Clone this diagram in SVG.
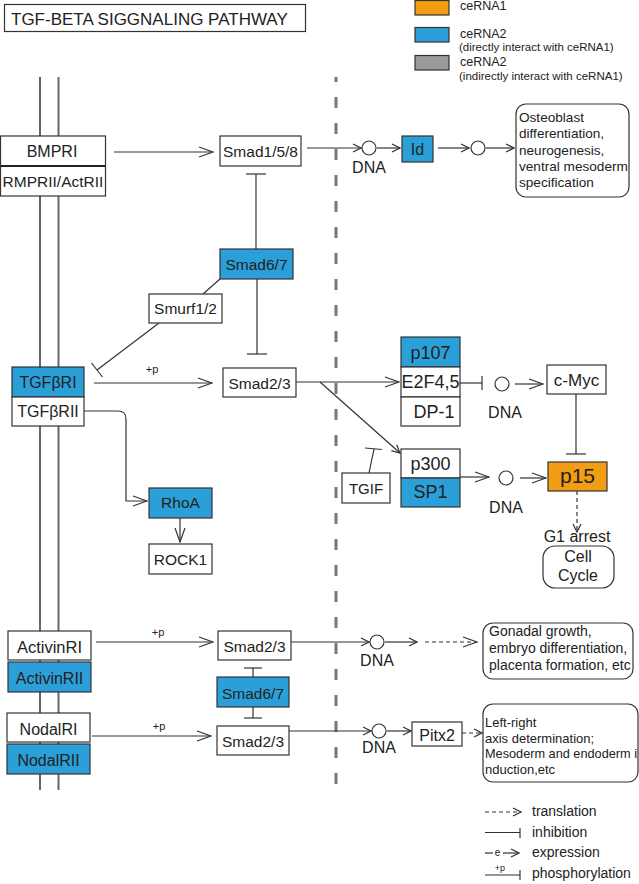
<svg xmlns="http://www.w3.org/2000/svg" width="639" height="884" viewBox="0 0 639 884">
<defs>
<style>
text{font-family:"Liberation Sans",Arial,sans-serif;fill:#222}
.b{fill:#fff;stroke:#333;stroke-width:1.2}
.bl{fill:#2b9fd8;stroke:#333;stroke-width:1.2}
.or{fill:#f19e14;stroke:#333;stroke-width:1.2}
.gr{fill:#9a9a9a;stroke:#333;stroke-width:1.2}
.c{fill:#fff;stroke:#333;stroke-width:1.2}
.ln{fill:none;stroke:#333;stroke-width:1.2}
.dl{fill:none;stroke:#333;stroke-width:1.2;stroke-dasharray:4 3}
.m{fill:none;stroke:#666;stroke-width:2}
.t16{font-size:16px;text-anchor:middle}
.t18{font-size:18px;text-anchor:middle}
.p{font-size:11px;text-anchor:middle}
</style>
<marker id="ah" markerUnits="userSpaceOnUse" markerWidth="16" markerHeight="12" viewBox="0 0 16 12" refX="15" refY="6" orient="auto"><path d="M1,1 L15,6 L1,11" fill="none" stroke="#333" stroke-width="1.2"/></marker>
<marker id="as" markerUnits="userSpaceOnUse" markerWidth="10" markerHeight="10" viewBox="0 0 10 10" refX="9" refY="5" orient="auto"><path d="M1,1 L9,5 L1,9" fill="none" stroke="#333" stroke-width="1.2"/></marker>
</defs>
<rect width="639" height="884" fill="#fff"/>

<g id="title"><rect x="4.5" y="4.5" width="301" height="27" class="b"/><text x="11" y="25" style="font-size:17px">TGF-BETA SIGGNALING PATHWAY</text></g>

<g id="legend">
<rect x="415" y="0.5" width="34" height="14.5" class="or"/><text x="460" y="10" style="font-size:12.5px">ceRNA1</text>
<rect x="415" y="27.5" width="34" height="14.5" class="bl"/><text x="460" y="38" style="font-size:12.5px">ceRNA2</text><text x="459" y="51" style="font-size:11.5px">(directly interact with ceRNA1)</text>
<rect x="415" y="55.5" width="34" height="14.5" class="gr"/><text x="460" y="66" style="font-size:12.5px">ceRNA2</text><text x="459" y="80" style="font-size:11.5px">(indirectly interact with ceRNA1)</text>
</g>

<g id="membrane"><line x1="40" y1="77" x2="40" y2="790" class="m"/><line x1="58.5" y1="77" x2="58.5" y2="790" class="m"/></g>
<g id="nucleus-border"><line x1="336" y1="77" x2="336" y2="793" style="stroke:#777;stroke-width:3;stroke-dasharray:11 15;stroke-dashoffset:6"/></g>

<g id="connectors">
<line x1="114" y1="152" x2="213" y2="152" class="ln" marker-end="url(#ah)"/>
<line x1="307" y1="148" x2="361" y2="148" class="ln" marker-end="url(#as)"/>
<line x1="377" y1="148" x2="400" y2="148" class="ln" marker-end="url(#as)"/>
<line x1="438" y1="148" x2="469" y2="148" class="ln" marker-end="url(#as)"/>
<line x1="486" y1="148" x2="514" y2="148" class="ln" marker-end="url(#as)"/>
<line x1="256" y1="249" x2="256" y2="174" class="ln"/><line x1="246" y1="174" x2="266" y2="174" class="ln"/>
<line x1="257" y1="279" x2="257" y2="354" class="ln"/><line x1="247" y1="354" x2="267" y2="354" class="ln"/>
<line x1="220" y1="279" x2="203" y2="294" class="ln"/>
<line x1="159" y1="323" x2="97" y2="370" class="ln"/><line x1="91.5" y1="363" x2="102.5" y2="377" class="ln"/>
<line x1="94" y1="383" x2="212" y2="383" class="ln" marker-end="url(#ah)"/><text x="152" y="373" class="p">+p</text>
<path d="M84,411 H118 Q126,411 126,419 V501 H147" class="ln" marker-end="url(#ah)"/>
<line x1="180" y1="518" x2="180" y2="542" class="ln" marker-end="url(#ah)"/>
<line x1="296" y1="382" x2="399" y2="382" class="ln" marker-end="url(#ah)"/>
<line x1="320" y1="382" x2="400" y2="453" class="ln" marker-end="url(#as)"/>
<line x1="460" y1="383" x2="482" y2="383" class="ln"/><line x1="482" y1="376" x2="482" y2="390" class="ln"/>
<line x1="515" y1="384" x2="543" y2="384" class="ln" marker-end="url(#ah)"/>
<line x1="576" y1="394" x2="576" y2="454" class="ln"/><line x1="566" y1="454" x2="586" y2="454" class="ln"/>
<line x1="460" y1="477" x2="489" y2="477" class="ln" marker-end="url(#ah)"/>
<line x1="520" y1="478" x2="546" y2="478" class="ln" marker-end="url(#ah)"/>
<line x1="369" y1="473" x2="374" y2="449" class="ln"/><line x1="365" y1="448" x2="382" y2="449.5" class="ln"/>
<line x1="577" y1="491" x2="577" y2="532" class="dl" marker-end="url(#as)"/>
<line x1="96" y1="642" x2="213" y2="642" class="ln" marker-end="url(#ah)"/><text x="158" y="636" class="p">+p</text>
<line x1="253" y1="677" x2="253" y2="668" class="ln"/><line x1="244" y1="668" x2="262" y2="668" class="ln"/>
<line x1="253" y1="707" x2="253" y2="718" class="ln"/><line x1="244" y1="718" x2="262" y2="718" class="ln"/>
<line x1="92" y1="736" x2="211" y2="736" class="ln" marker-end="url(#ah)"/><text x="159" y="730" class="p">+p</text>
<line x1="291" y1="642" x2="369" y2="642" class="ln" marker-end="url(#as)"/>
<line x1="385" y1="642" x2="417" y2="642" class="ln" marker-end="url(#as)"/>
<line x1="425" y1="642" x2="477" y2="642" class="dl" marker-end="url(#ah)"/>
<line x1="289" y1="731" x2="371" y2="731" class="ln" marker-end="url(#as)"/>
<line x1="387" y1="731" x2="411" y2="731" class="ln" marker-end="url(#as)"/>
<line x1="462" y1="733" x2="482" y2="733" class="dl" marker-end="url(#as)"/>
</g>

<g id="BMPRI"><rect x="0.5" y="136" width="105" height="30" class="b"/><text x="52" y="157" class="t16">BMPRI</text></g>
<g id="RMPRII"><rect x="0.5" y="166" width="105" height="30" class="b"/><line x1="0.5" y1="166" x2="105.5" y2="166" style="stroke:#222;stroke-width:2"/><text x="53" y="187" class="t16" style="font-size:15.5px">RMPRII/ActRII</text></g>
<g id="Smad158"><rect x="220" y="136" width="81" height="30" class="b"/><text x="260.5" y="157" class="t16" style="font-size:15.5px">Smad1/5/8</text></g>
<g id="DNA1"><circle cx="369" cy="148" r="7" class="c"/><text x="369" y="173" class="t16">DNA</text></g>
<g id="Id"><rect x="402" y="136" width="31" height="26" class="bl"/><text x="417.5" y="155" class="t16">Id</text></g>
<g id="circle2"><circle cx="478" cy="148" r="7" class="c"/></g>
<g id="osteoblast"><rect x="516" y="104" width="113" height="93" rx="10" class="b"/>
<text x="519" y="122" style="font-size:13.6px">Osteoblast</text><text x="519" y="138" style="font-size:13.6px">differentiation,</text><text x="519" y="154.5" style="font-size:13.6px">neurogenesis,</text><text x="519" y="170.5" style="font-size:13.6px">ventral mesoderm</text><text x="519" y="187" style="font-size:13.6px">specification</text></g>

<g id="Smad67a"><rect x="220" y="249" width="73" height="30" class="bl"/><text x="256.5" y="270" class="t16" style="font-size:15.5px">Smad6/7</text></g>
<g id="Smurf"><rect x="149" y="294" width="73" height="29" class="b"/><text x="185.5" y="314" class="t16" style="font-size:15.5px">Smurf1/2</text></g>
<g id="TGFbRI"><rect x="12" y="367" width="72" height="30" class="bl"/><text x="48" y="388" class="t16">TGFβRI</text></g>
<g id="TGFbRII"><rect x="12" y="397" width="72" height="29" class="b"/><text x="48" y="417" class="t16">TGFβRII</text></g>
<g id="Smad23a"><rect x="223" y="368" width="73" height="29" class="b"/><text x="259.5" y="389" class="t16" style="font-size:15.5px">Smad2/3</text></g>
<g id="RhoA"><rect x="149" y="488" width="63" height="30" class="bl"/><text x="180.5" y="508" class="t16" style="font-size:15.5px">RhoA</text></g>
<g id="ROCK1"><rect x="149" y="544" width="63" height="30" class="b"/><text x="180.5" y="565" class="t16" style="font-size:15.5px">ROCK1</text></g>

<g id="p107"><rect x="401" y="337" width="59" height="30" class="bl"/><text x="430.5" y="359" class="t18">p107</text></g>
<g id="E2F45"><rect x="401" y="367" width="59" height="30" class="b"/><text x="430.5" y="388" class="t18">E2F4,5</text></g>
<g id="DP1"><rect x="401" y="397" width="59" height="29" class="b"/><text x="434" y="418" class="t18">DP-1</text></g>
<g id="DNA3"><circle cx="502" cy="384" r="7" class="c"/><text x="505" y="418" class="t16">DNA</text></g>
<g id="cMyc"><rect x="547" y="365" width="59" height="29" class="b"/><text x="576.5" y="386" class="t16" style="font-size:17px">c-Myc</text></g>
<g id="p15"><rect x="548" y="462" width="59" height="29" class="or"/><text x="577.5" y="483" class="t16" style="font-size:21px">p15</text></g>
<g id="p300"><rect x="401" y="449" width="59" height="29" class="b"/><text x="430.5" y="470" class="t18">p300</text></g>
<g id="SP1"><rect x="401" y="478" width="59" height="29" class="bl"/><text x="430.5" y="498" class="t18">SP1</text></g>
<g id="DNA4"><circle cx="506" cy="478" r="7" class="c"/><text x="506" y="513" class="t16">DNA</text></g>
<g id="TGIF"><rect x="342" y="473" width="48" height="30" class="b"/><text x="366" y="494" class="t16" style="font-size:15px">TGIF</text></g>
<g id="G1arrest"><text x="577" y="542" class="t16">G1 arrest</text></g>
<g id="cellcycle"><rect x="543" y="546" width="71" height="42" rx="12" class="b"/><text x="578" y="562" class="t16">Cell</text><text x="578" y="581" class="t16">Cycle</text></g>

<g id="ActivinRI"><rect x="8" y="631" width="83" height="29" class="b"/><text x="49.5" y="653" class="t16" style="font-size:16.5px">ActivinRI</text></g>
<g id="ActivinRII"><rect x="8" y="662" width="83" height="30" class="bl"/><text x="49.5" y="684" class="t16">ActivinRII</text></g>
<g id="Smad23b"><rect x="218" y="631" width="73" height="29" class="b"/><text x="254.5" y="652" class="t16" style="font-size:15.5px">Smad2/3</text></g>
<g id="Smad67b"><rect x="217" y="677" width="72" height="30" class="bl"/><text x="253" y="699" class="t16" style="font-size:15.5px">Smad6/7</text></g>
<g id="NodalRI"><rect x="7" y="713" width="83" height="29" class="b"/><text x="48.5" y="735" class="t16">NodalRI</text></g>
<g id="NodalRII"><rect x="7" y="744" width="83" height="30" class="bl"/><text x="48.5" y="766" class="t16">NodalRII</text></g>
<g id="Smad23c"><rect x="217" y="726" width="72" height="29" class="b"/><text x="253" y="747" class="t16" style="font-size:15.5px">Smad2/3</text></g>

<g id="DNA5"><circle cx="377" cy="642" r="7" class="c"/><text x="377" y="666" class="t16">DNA</text></g>
<g id="gonadal"><rect x="483" y="623" width="150" height="56" rx="10" class="b"/>
<text x="489" y="636" style="font-size:14px">Gonadal growth,</text><text x="489" y="653" style="font-size:14px">embryo differentiation,</text><text x="489" y="670" style="font-size:14px">placenta formation, etc</text></g>
<g id="DNA6"><circle cx="379" cy="731" r="7" class="c"/><text x="379" y="753" class="t16">DNA</text></g>
<g id="Pitx2"><rect x="412" y="722" width="50" height="24" class="b"/><text x="437" y="741" class="t16">Pitx2</text></g>
<g id="leftright"><rect x="483" y="704" width="155" height="78" rx="10" class="b"/>
<text x="485" y="727" style="font-size:13px">Left-right</text><text x="485" y="742.5" style="font-size:13px">axis  determination;</text><text x="485" y="758" style="font-size:13px" textLength="152" lengthAdjust="spacingAndGlyphs">Mesoderm and endoderm i</text><text x="485" y="773.5" style="font-size:13px">nduction,etc</text></g>

<g id="key">
<line x1="485" y1="812" x2="521" y2="812" class="dl" marker-end="url(#as)"/><text x="532" y="816" style="font-size:14px">translation</text>
<line x1="485" y1="832.5" x2="520" y2="832.5" class="ln"/><line x1="520" y1="828" x2="520" y2="838" class="ln"/><text x="532" y="837" style="font-size:14px">inhibition</text>
<line x1="485" y1="853" x2="493" y2="853" class="ln"/><text x="497.5" y="856" style="font-size:10px;text-anchor:middle">e</text><line x1="503" y1="853" x2="519" y2="853" class="ln" marker-end="url(#as)"/><text x="532" y="857" style="font-size:14px">expression</text>
<line x1="485" y1="875" x2="520" y2="875" class="ln"/><line x1="520" y1="870" x2="520" y2="880" class="ln"/><text x="500" y="871" style="font-size:9px;text-anchor:middle">+p</text><text x="532" y="878" style="font-size:14px">phosphorylation</text>
</g>
</svg>
